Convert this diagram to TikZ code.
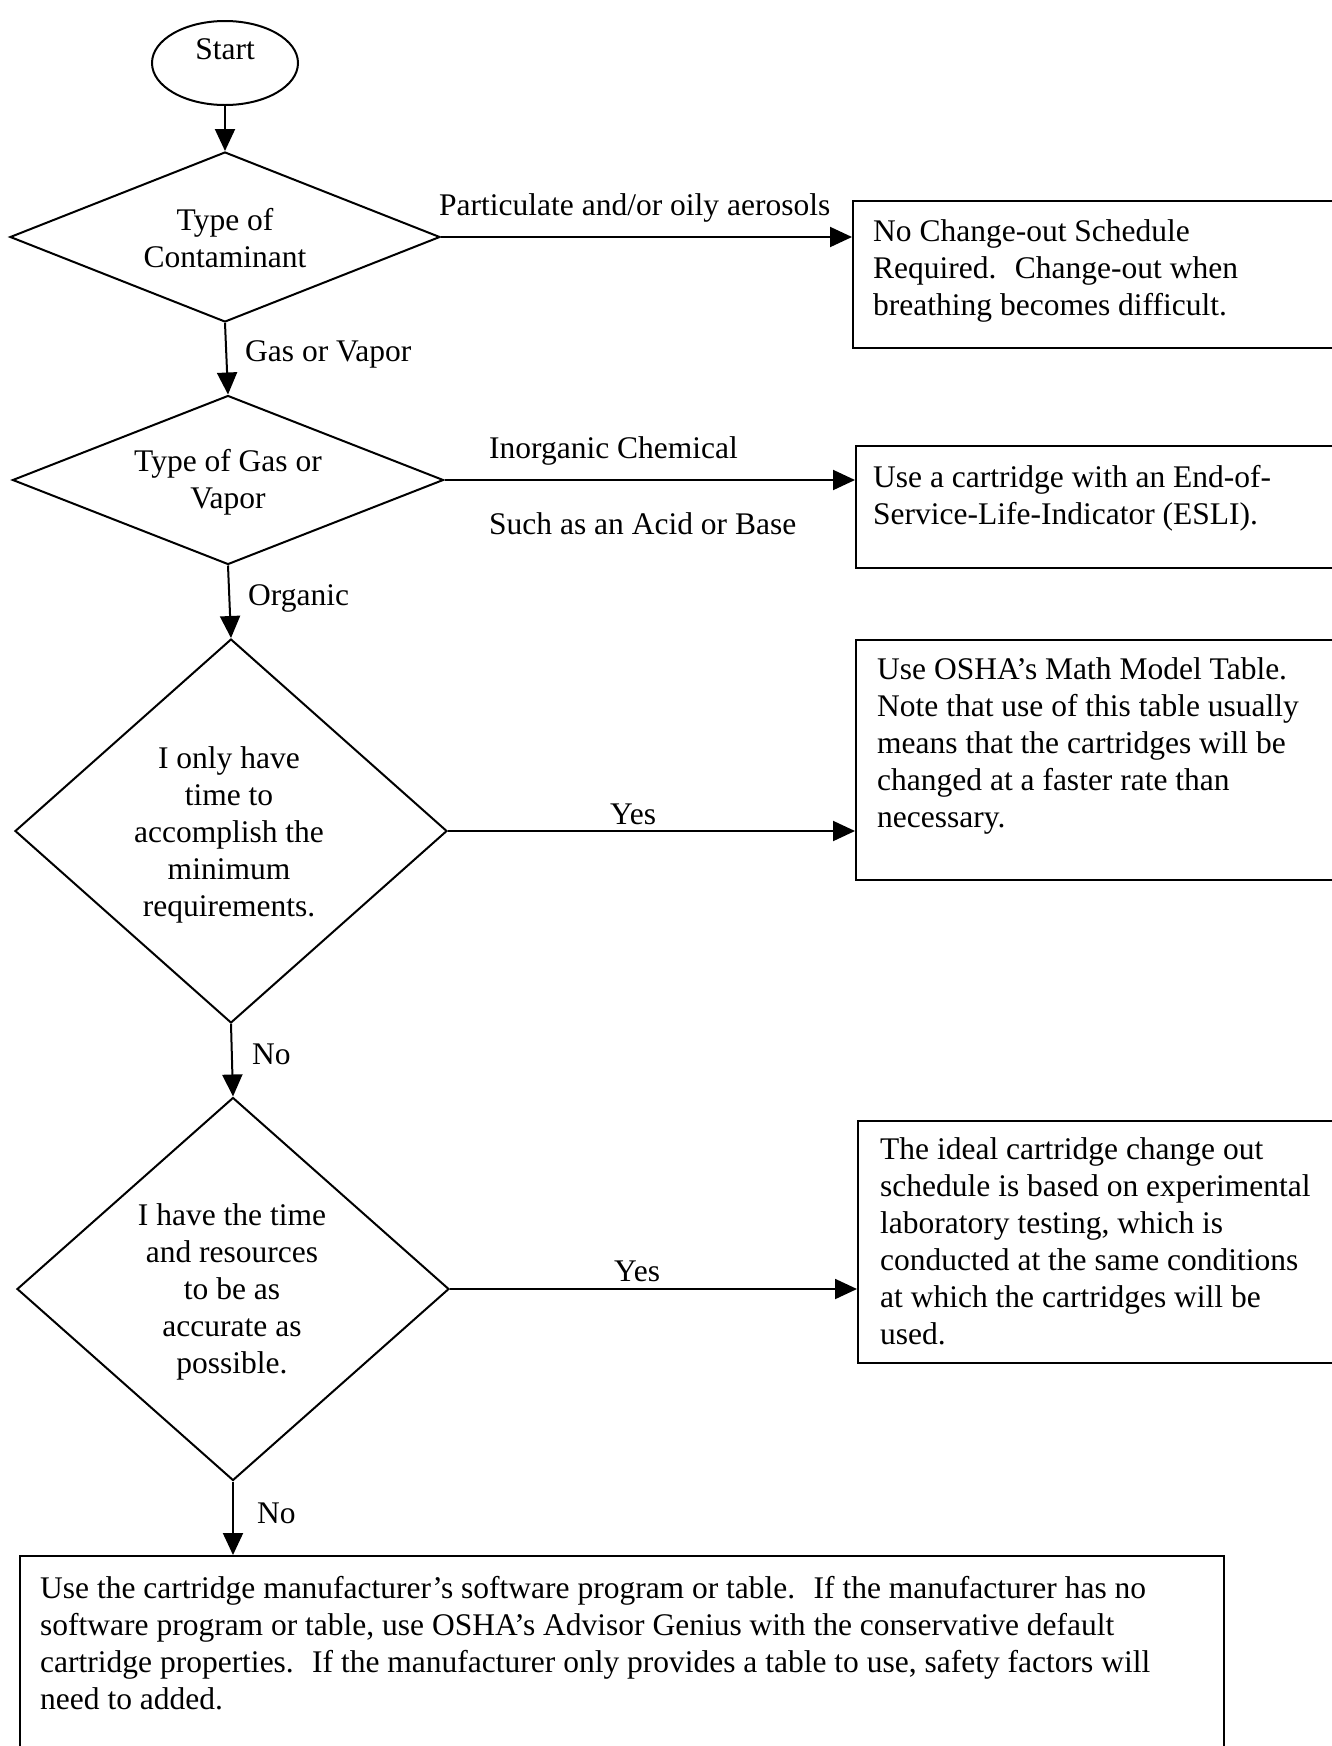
\documentclass[tikz,border=0pt]{standalone}
\usepackage{fontspec}
\setmainfont{Liberation Serif}
\usetikzlibrary{shapes.geometric,arrows.meta}
\tikzset{
  dia/.style={draw, diamond, line width=2pt, inner sep=0pt},
  term/.style={draw, ellipse, line width=2pt, inner sep=0pt},
  outbox/.style={draw, rectangle, line width=2.4pt, anchor=north west, inner sep=0pt},
  txt/.style={font=\fontsize{31.5}{37}\selectfont, inner sep=0pt},
  btxt/.style={txt, align=left, anchor=north west},
  ctxt/.style={txt, align=center},
  lbl/.style={txt, anchor=west},
  flow/.style={line width=2pt, -{Triangle[length=22pt,width=20pt]}},
}
\begin{document}
\begin{tikzpicture}[x=1pt,y=-1pt]
\useasboundingbox (0,0) rectangle (1332,1746);
\clip (0,0) rectangle (1332,1746);

% start
\node[term, minimum width=146pt, minimum height=84pt] (s) at (225,63) {};
\node[ctxt] (st) at (225,49) {Start};

% diamonds
\node[dia, minimum width=430pt, minimum height=170pt] (d1) at (225,237) {};
\node[ctxt] (d1t) at (225,238) {Type of\\Contaminant};
\node[dia, minimum width=431pt, minimum height=169pt] (d2) at (228,480) {};
\node[ctxt] (d2t) at (228,482) {Type of Gas or\\Vapor};
\node[dia, minimum width=432pt, minimum height=384pt] (d3) at (231,831) {};
\node[ctxt] (d3t) at (229,835) {I only have\\time to\\accomplish the\\minimum\\requirements.};
\node[dia, minimum width=432pt, minimum height=383pt] (d4) at (233,1289) {};
\node[ctxt] (d4t) at (232,1292) {I have the time\\and resources\\to be as\\accurate as\\possible.};

% boxes
\node[outbox, minimum width=600pt, minimum height=147pt] (b1) at (852,200) {};
\node[btxt] (b1t) at (873,215) {\strut No Change-out Schedule\\Required.~ Change-out when\\breathing becomes difficult.};
\node[outbox, minimum width=600pt, minimum height=122pt] (b2) at (855,445) {};
\node[btxt] (b2t) at (873,461) {\strut Use a cartridge with an End-of-\\Service-Life-Indicator (ESLI).};
\node[outbox, minimum width=600pt, minimum height=240pt] (b3) at (855,639) {};
\node[btxt] (b3t) at (877,653) {\strut Use OSHA’s Math Model Table.\\Note that use of this table usually\\means that the cartridges will be\\changed at a faster rate than\\necessary.};
\node[outbox, minimum width=600pt, minimum height=242pt] (b4) at (857,1120) {};
\node[btxt] (b4t) at (880,1133) {\strut The ideal cartridge change out\\schedule is based on experimental\\laboratory testing, which is\\conducted at the same conditions\\at which the cartridges will be\\used.};
\node[outbox, minimum width=1204pt, minimum height=300pt] (bb) at (19,1555) {};
\node[btxt] (bbt) at (40,1572) {\strut Use the cartridge manufacturer’s software program or table.~ If the manufacturer has no\\software program or table, use OSHA’s Advisor Genius with the conservative default\\cartridge properties.~ If the manufacturer only provides a table to use, safety factors will\\need to added.};

% connectors
\draw[flow] (s.south) -- (d1.north);
\draw[flow] (d1.south) -- (d2.north);
\draw[flow] (d2.south) -- (d3.north);
\draw[flow] (d3.south) -- (d4.north);
\draw[flow] (d4.south) -- (d4.south |- bb.north);
\draw[flow] (d1.east) -- (d1.east -| b1.west);
\draw[flow] (d2.east) -- (d2.east -| b2.west);
\draw[flow] (d3.east) -- (d3.east -| b3.west);
\draw[flow] (d4.east) -- (d4.east -| b4.west);

% labels
\node[lbl] (l1) at (439,208) {Particulate and/or oily aerosols};
\node[lbl] (l2) at (245,354) {Gas or Vapor};
\node[lbl] (l3) at (489,451) {Inorganic Chemical};
\node[lbl] (l4) at (489,524) {Such as an Acid or Base};
\node[lbl] (l5) at (248,598) {Organic};
\node[lbl] (l6) at (610,814) {Yes};
\node[lbl] (l7) at (252,1054) {No};
\node[lbl] (l8) at (614,1271) {Yes};
\node[lbl] (l9) at (257,1513) {No};
\end{tikzpicture}
\end{document}
